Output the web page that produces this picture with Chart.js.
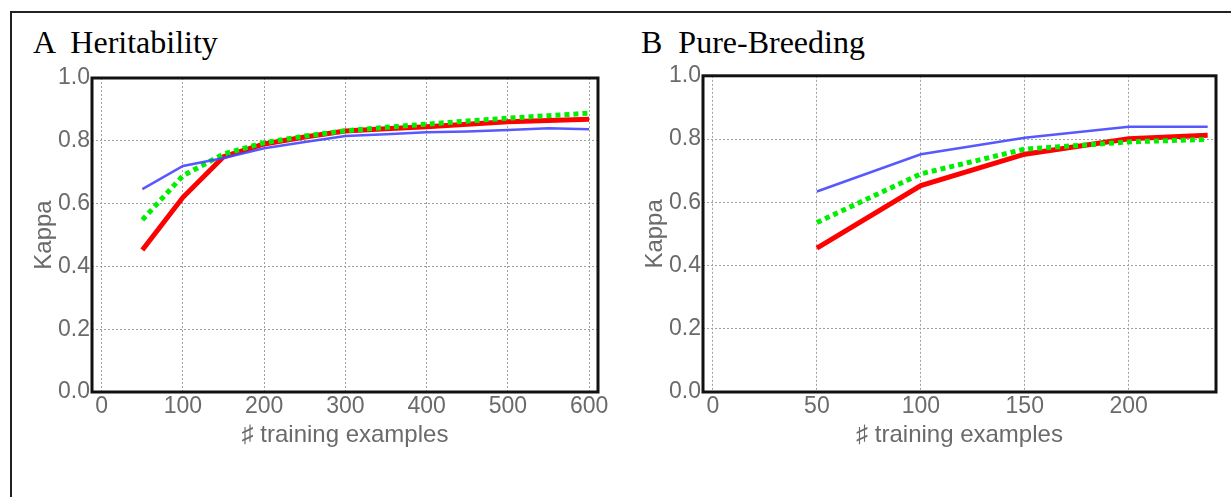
<!DOCTYPE html>
<html>
<head>
<meta charset="utf-8">
<script src="https://cdn.jsdelivr.net/npm/chart.js@4.4.1/dist/chart.umd.min.js"></script>
<style>
  html, body { margin: 0; padding: 0; background: #fff; overflow: hidden; }
  body { width: 1231px; height: 497px; position: relative; }
  .frame { position: absolute; left: 10px; top: 11px; width: 1400px; height: 700px; border: 2px solid #222; }
  .panel-title { position: absolute; font-family: "Liberation Serif", "Times New Roman", serif; font-size: 32px; line-height: 32px; color: #000; white-space: pre; }
  .box { position: absolute; width: 600px; height: 400px; }
</style>
</head>
<body>
<div class="frame"></div>
<div class="panel-title" style="left:33px; top:26px;">A  Heritability</div>
<div class="panel-title" style="left:641px; top:26px;">B  Pure-Breeding</div>
<div class="box" style="left:20px; top:60px;"><canvas id="chartA" width="600" height="400"></canvas></div>
<div class="box" style="left:625px; top:60px;"><canvas id="chartB" width="600" height="400"></canvas></div>

<script>
// A  Heritability
const xA = [50, 100, 150, 200, 250, 300, 350, 400, 450, 500, 550, 600];
const blueA  = [0.646, 0.720, 0.745, 0.776, 0.796, 0.815, 0.821, 0.827, 0.830, 0.834, 0.840, 0.837];
const greenA = [0.548, 0.689, 0.758, 0.794, 0.815, 0.832, 0.843, 0.853, 0.863, 0.872, 0.880, 0.888];
const redA   = [0.452, 0.620, 0.749, 0.790, 0.812, 0.831, 0.838, 0.845, 0.853, 0.861, 0.865, 0.869];
const xTicksA = [0, 100, 200, 300, 400, 500, 600];

// B  Pure-Breeding
const xB = [50, 100, 150, 200, 238];
const blueB  = [0.634, 0.752, 0.804, 0.839, 0.839];
const greenB = [0.536, 0.690, 0.768, 0.791, 0.799];
const redB   = [0.455, 0.653, 0.752, 0.801, 0.812];
const xTicksB = [0, 50, 100, 150, 200];

const yTicks = [0, 0.2, 0.4, 0.6, 0.8, 1.0];

const GRAY = '#6a6a6a';

// black frame round the plot area
const plotBorder = {
    id: 'plotBorder',
    afterDatasetsDraw(chart) {
        const {ctx, chartArea: a} = chart;
        ctx.save();
        ctx.strokeStyle = '#111';
        ctx.lineWidth = 3;
        ctx.strokeRect(a.left, a.top, a.right - a.left, a.bottom - a.top);
        ctx.restore();
    }
};

function pts(xs, ys) {
    return xs.map((x, i) => ({x: x, y: ys[i]}));
}

function makeChart(id, xs, blue, green, red, xTicks, xr, lay) {
    const ctx = document.getElementById(id).getContext('2d');
    const grid = { color: '#a0a0a0', lineWidth: 1, drawTicks: false };
    // in v4 the dash of the grid lines comes from border.dash
    const border = { display: false, dash: [2, 2] };
    return new Chart(ctx, {
        type: 'line',
        data: {
            datasets: [
                { data: pts(xs, blue), borderColor: 'rgba(70, 70, 255, 0.9)', borderWidth: 2.5, pointRadius: 0, tension: 0 },
                { data: pts(xs, green), borderColor: '#00ee00', borderWidth: 5, borderDash: [5, 4], pointRadius: 0, tension: 0 },
                { data: pts(xs, red), borderColor: '#ff0000', borderWidth: 5, pointRadius: 0, tension: 0 }
            ]
        },
        options: {
            responsive: false,
            animation: false,
            events: [],
            layout: { padding: { left: 0, top: lay.top, right: lay.right, bottom: 8 } },
            plugins: { legend: { display: false }, tooltip: { enabled: false } },
            scales: {
                x: {
                    type: 'linear',
                    min: xr[0],
                    max: xr[1],
                    afterBuildTicks: s => { s.ticks = xTicks.map(v => ({value: v})); },
                    afterFit: s => { s.height = 60; },
                    border: border,
                    grid: grid,
                    ticks: { color: GRAY, padding: 1, maxRotation: 0, font: { family: 'Liberation Sans', size: 23 } },
                    title: { display: true, text: '\u266F training examples', color: GRAY,
                             padding: { top: 0, bottom: 2 }, font: { family: 'Liberation Sans', size: 24 } }
                },
                y: {
                    min: 0,
                    max: 1,
                    afterBuildTicks: s => { s.ticks = yTicks.map(v => ({value: v})); },
                    afterFit: s => { s.width = lay.yw; },
                    border: border,
                    grid: grid,
                    ticks: { color: GRAY, padding: 2, font: { family: 'Liberation Sans', size: 23 },
                             callback: v => v.toFixed(1) },
                    title: { display: true, text: 'Kappa', color: GRAY,
                             padding: { top: lay.kt, bottom: 0 }, font: { family: 'Liberation Sans', size: 24 } }
                }
            }
        },
        plugins: [plotBorder]
    });
}

makeChart('chartA', xA, blueA, greenA, redA, xTicksA, [-12, 611], { top: 18, right: 22, yw: 72, kt: 10 });
makeChart('chartB', xB, blueB, greenB, redB, xTicksB, [-4.8, 242], { top: 13, right: 9, yw: 78, kt: 16 });
</script>
</body>
</html>
